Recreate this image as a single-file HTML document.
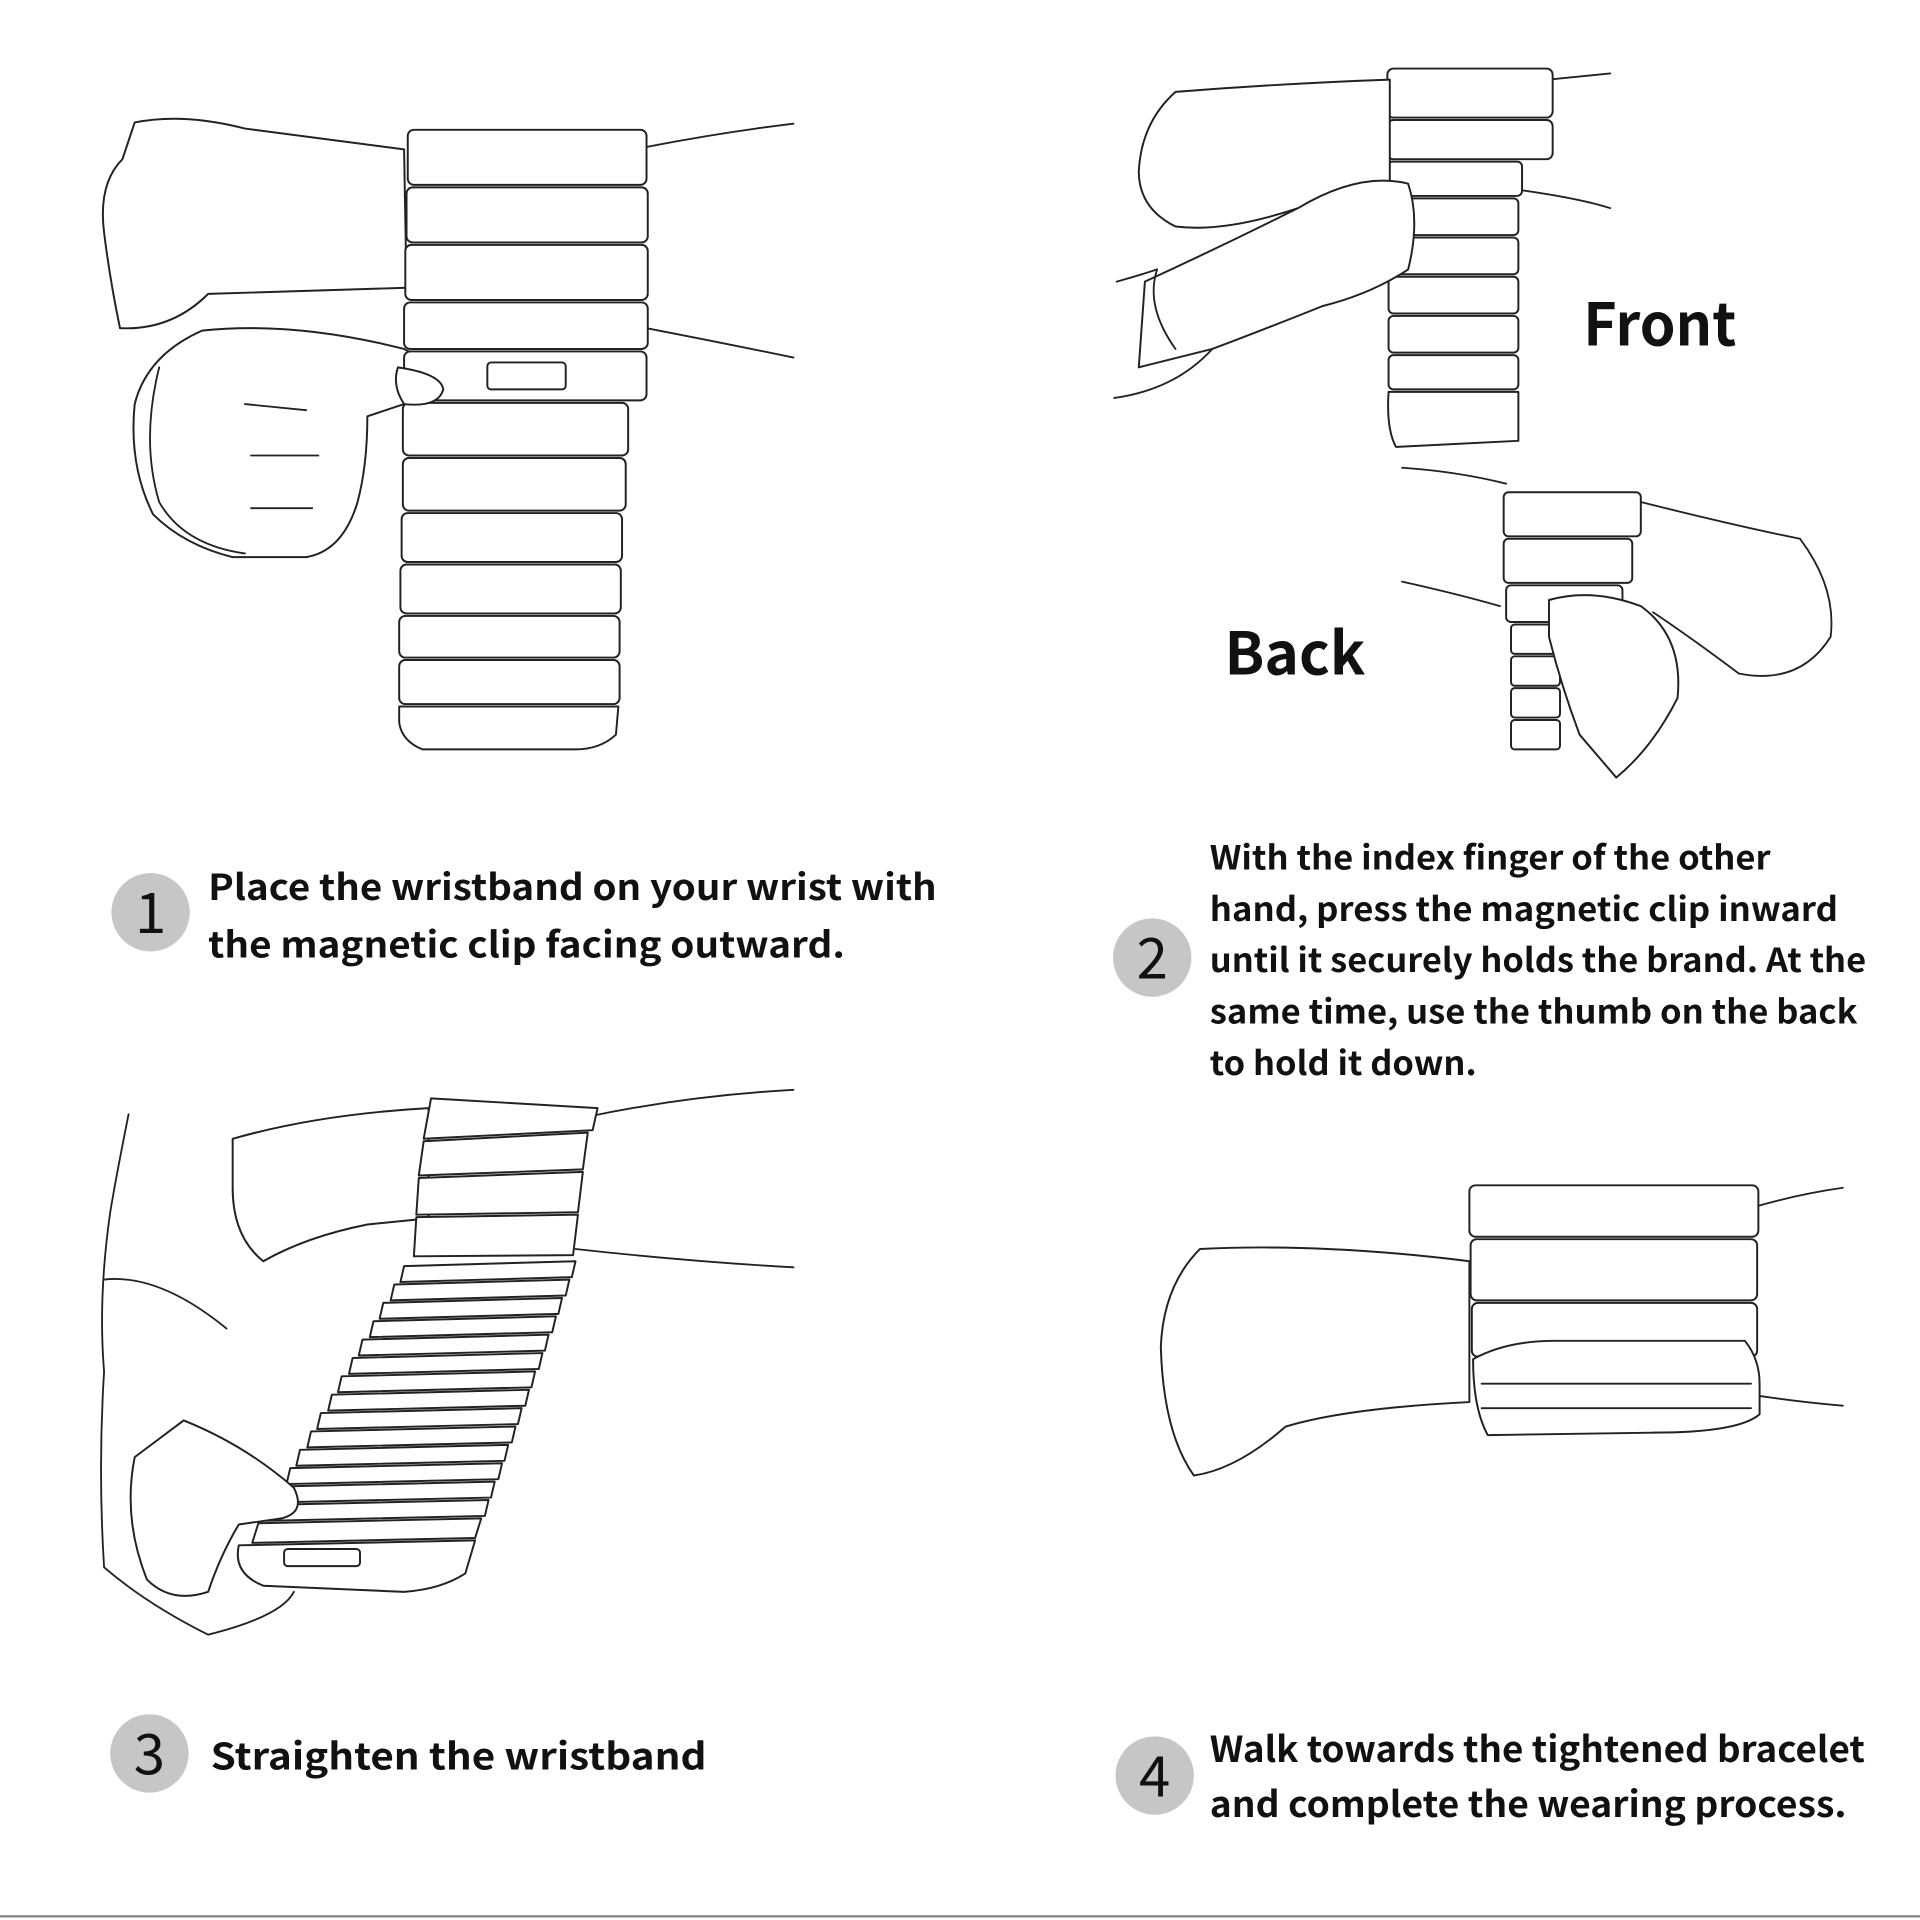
<!DOCTYPE html>
<html><head><meta charset="utf-8"><style>
html,body{margin:0;padding:0;background:#fff;}
svg{display:block;}
text{font-family:"Noto Sans CJK SC","Liberation Sans",sans-serif;font-weight:bold;fill:#111;}
.l{fill:#fff;stroke:#222;stroke-width:1.6;stroke-linejoin:round;stroke-linecap:round;}
.n{fill:none;stroke:#222;stroke-width:1.5;stroke-linecap:round;}
</style></head><body>
<svg width="1920" height="1920" viewBox="0 0 1568 1568" xmlns="http://www.w3.org/2000/svg">
<!-- STEP 1 -->
<path class="n" d="M528 120 Q590 108 648 101"/>
<path class="n" d="M528 268 Q590 280 648 292"/>
<path class="l" d="M110 100 Q150 92 200 105 L330 122 L332 235 L170 240 Q140 270 98 268 Q90 230 85 190 Q80 150 100 130 Z"/>
<path class="l" d="M165 270 Q240 262 330 285 Q360 300 362 318 Q360 332 330 330 L300 340 Q300 380 292 410 Q280 450 250 455 L190 455 Q150 445 125 420 Q105 380 110 330 Q120 290 165 270 Z"/>
<path class="n" d="M130 300 Q115 360 130 410 Q150 445 200 452"/>
<path class="n" d="M205 372 L260 372 M205 415 L255 415 M200 330 L250 335"/>
<g>
<rect class="l" x="333" y="106" width="195" height="45" rx="5"/>
<rect class="l" x="332" y="153" width="197" height="45" rx="5"/>
<rect class="l" x="331" y="200" width="198" height="45" rx="5"/>
<rect class="l" x="330" y="247" width="199" height="38" rx="5"/>
<rect class="l" x="330" y="287" width="198" height="40" rx="5"/>
<rect class="l" x="398" y="296" width="64" height="22" rx="3"/>
<rect class="l" x="329" y="329" width="184" height="43" rx="5"/>
<rect class="l" x="329" y="374" width="182" height="43" rx="5"/>
<rect class="l" x="328" y="419" width="180" height="40" rx="5"/>
<rect class="l" x="327" y="461" width="180" height="40" rx="5"/>
<rect class="l" x="326" y="503" width="180" height="34" rx="5"/>
<rect class="l" x="326" y="539" width="180" height="36" rx="5"/>
<path class="l" d="M326 577 L505 577 L503 600 Q490 612 470 612 L345 612 Q328 605 326 590 Z"/>
</g>
<path class="l" d="M325 300 Q360 305 362 318 Q358 333 330 330 Q320 315 325 300 Z"/>
<!-- STEP 2 front -->
<path class="n" d="M1265 65 L1315 60 M1240 155 Q1290 162 1315 170"/>
<g>
<rect class="l" x="1133" y="56" width="135" height="40" rx="5"/>
<rect class="l" x="1133" y="98" width="135" height="32" rx="5"/>
<rect class="l" x="1133" y="132" width="110" height="28" rx="4"/>
<rect class="l" x="1134" y="162" width="106" height="30" rx="4"/>
<rect class="l" x="1134" y="194" width="106" height="30" rx="4"/>
<rect class="l" x="1134" y="226" width="106" height="30" rx="4"/>
<rect class="l" x="1134" y="258" width="106" height="30" rx="4"/>
<rect class="l" x="1134" y="290" width="106" height="28" rx="4"/>
<path class="l" d="M1134 320 L1240 320 L1240 360 L1140 365 Q1132 350 1134 320 Z"/>
</g>
<path class="l" d="M960 75 Q1050 68 1135 65 L1135 150 L1060 170 Q1000 190 960 185 Q930 170 930 140 Q932 100 960 75 Z"/>
<path class="l" d="M935 230 Q1000 200 1060 170 Q1110 140 1150 150 Q1160 180 1150 220 Q1120 240 1080 250 Q1030 270 990 285 L930 300 Z"/>
<path class="n" d="M910 325 Q960 318 990 285 M912 230 Q930 225 945 220"/>
<path class="n" d="M945 220 Q935 250 960 285"/>
<!-- STEP 2 back -->
<path class="n" d="M1145 382 Q1190 385 1230 395 M1145 475 Q1190 485 1225 495"/>
<path class="n" d="M1340 410 Q1420 430 1470 440 Q1500 480 1495 520 Q1470 560 1420 550 Q1380 520 1350 500"/>
<g>
<rect class="l" x="1228" y="402" width="112" height="36" rx="4"/>
<rect class="l" x="1228" y="440" width="105" height="36" rx="4"/>
<rect class="l" x="1230" y="478" width="95" height="30" rx="4"/>
<rect class="l" x="1234" y="510" width="40" height="24" rx="3"/>
<rect class="l" x="1234" y="536" width="40" height="24" rx="3"/>
<rect class="l" x="1234" y="562" width="40" height="24" rx="3"/>
<rect class="l" x="1234" y="588" width="40" height="24" rx="3"/>
</g>
<path class="l" d="M1265 490 Q1300 480 1340 495 Q1375 520 1370 570 Q1350 610 1320 635 L1290 600 Q1275 560 1265 520 Z"/>
<!-- STEP 3 -->
<path class="n" d="M480 912 Q560 895 648 890 M470 1020 Q560 1030 648 1035"/>
<path class="l" d="M190 930 Q260 910 350 905 L350 995 L300 1000 Q250 1010 215 1030 Q190 1010 190 970 Z"/>
<path class="n" d="M105 910 Q95 960 90 990 Q80 1060 85 1120 Q80 1200 85 1280 Q120 1310 170 1335 Q230 1320 240 1300"/>
<g>
<path class="l" d="M352 897 L488 905 L484 923 L346 930 Z"/>
<path class="l" d="M346 932 L480 925 L476 955 L342 960 Z"/>
<path class="l" d="M342 962 L476 957 L472 990 L340 992 Z"/>
<path class="l" d="M340 994 L472 992 L468 1025 L338 1026 Z"/>
</g>
<g>
<path class="l" d="M330 1034 L470 1030 L467 1043 L327 1047 Z"/>
<path class="l" d="M322 1049 L465 1045 L462 1058 L319 1062 Z"/>
<path class="l" d="M313 1064 L459 1060 L456 1073 L310 1077 Z"/>
<path class="l" d="M305 1079 L454 1075 L451 1088 L302 1092 Z"/>
<path class="l" d="M296 1094 L448 1090 L445 1103 L293 1107 Z"/>
<path class="l" d="M288 1109 L443 1105 L440 1118 L285 1122 Z"/>
<path class="l" d="M279 1124 L437 1120 L434 1133 L276 1137 Z"/>
<path class="l" d="M271 1139 L432 1135 L429 1148 L268 1152 Z"/>
<path class="l" d="M262 1154 L426 1150 L423 1163 L259 1167 Z"/>
<path class="l" d="M254 1169 L421 1165 L418 1178 L251 1182 Z"/>
<path class="l" d="M245 1184 L415 1180 L412 1193 L242 1197 Z"/>
<path class="l" d="M237 1199 L410 1195 L407 1208 L234 1212 Z"/>
<path class="l" d="M228 1214 L404 1210 L401 1223 L225 1227 Z"/>
<path class="l" d="M220 1229 L399 1225 L396 1238 L217 1242 Z"/>
<path class="l" d="M211 1244 L393 1240 L388 1256 L206 1260 Z"/>
<path class="l" d="M195 1262 L388 1258 L380 1285 Q360 1298 330 1300 L215 1295 Q190 1285 195 1262 Z"/>
<rect class="l" x="232" y="1265" width="62" height="14" rx="3"/>
</g>
<path class="l" d="M150 1160 Q200 1180 240 1215 Q250 1235 230 1240 L195 1245 Q180 1270 170 1300 Q140 1310 120 1290 Q100 1240 110 1190 Z"/>
<path class="n" d="M85 1045 Q130 1040 185 1085"/>
<!-- STEP 4 -->
<path class="n" d="M1435 985 Q1470 975 1505 970 M1437 1140 Q1470 1145 1505 1148"/>
<path class="l" d="M980 1020 Q1080 1015 1200 1030 L1200 1145 Q1100 1150 1050 1165 Q1010 1200 975 1205 Q950 1170 948 1100 Q950 1050 980 1020 Z"/>
<g>
<rect class="l" x="1200" y="968" width="236" height="42" rx="5"/>
<rect class="l" x="1201" y="1012" width="234" height="50" rx="5"/>
<rect class="l" x="1202" y="1064" width="233" height="44" rx="5"/>
<path class="l" d="M1203 1110 Q1230 1095 1270 1095 L1425 1095 Q1437 1110 1437 1130 L1437 1155 Q1420 1170 1350 1170 L1215 1172 Q1203 1150 1203 1110 Z"/>
<path class="n" d="M1210 1130 L1430 1130 M1210 1150 L1430 1150"/>
</g>
<!-- circles & text -->
<g fill="#c6c6c6"><circle cx="123" cy="745" r="32"/><circle cx="941" cy="782" r="32"/><circle cx="122" cy="1432" r="32"/><circle cx="943" cy="1450" r="32"/></g>
<g style="font-family:'Liberation Sans',sans-serif;font-weight:normal;font-size:46px" text-anchor="middle">
<text x="123" y="762" style="font-weight:normal">1</text><text x="941" y="799" style="font-weight:normal">2</text>
<text x="122" y="1449" style="font-weight:normal">3</text><text x="943" y="1467" style="font-weight:normal">4</text>
</g>
<g font-size="29">
<text x="170" y="735" textLength="595" lengthAdjust="spacingAndGlyphs">Place the wristband on your wrist with</text>
<text x="170" y="782" textLength="520" lengthAdjust="spacingAndGlyphs">the magnetic clip facing outward.</text>
</g>
<g font-size="27">
<text x="988" y="710" textLength="458" lengthAdjust="spacingAndGlyphs">With the index finger of the other</text>
<text x="988" y="752" textLength="513" lengthAdjust="spacingAndGlyphs">hand, press the magnetic clip inward</text>
<text x="988" y="794" textLength="536" lengthAdjust="spacingAndGlyphs">until it securely holds the brand. At the</text>
<text x="988" y="836" textLength="529" lengthAdjust="spacingAndGlyphs">same time, use the thumb on the back</text>
<text x="988" y="878" textLength="218" lengthAdjust="spacingAndGlyphs">to hold it down.</text>
</g>
<text x="172" y="1445" font-size="30" textLength="405" lengthAdjust="spacingAndGlyphs">Straighten the wristband</text>
<g font-size="29">
<text x="988" y="1439" textLength="535" lengthAdjust="spacingAndGlyphs">Walk towards the tightened bracelet</text>
<text x="988" y="1484" textLength="520" lengthAdjust="spacingAndGlyphs">and complete the wearing process.</text>
</g>
<text x="1293" y="282" font-size="48" textLength="125" lengthAdjust="spacingAndGlyphs">Front</text>
<text x="1000" y="551" font-size="48" textLength="115" lengthAdjust="spacingAndGlyphs">Back</text>
<line x1="0" y1="1565" x2="1568" y2="1565" stroke="#888" stroke-width="2"/>
</svg>
</body></html>
